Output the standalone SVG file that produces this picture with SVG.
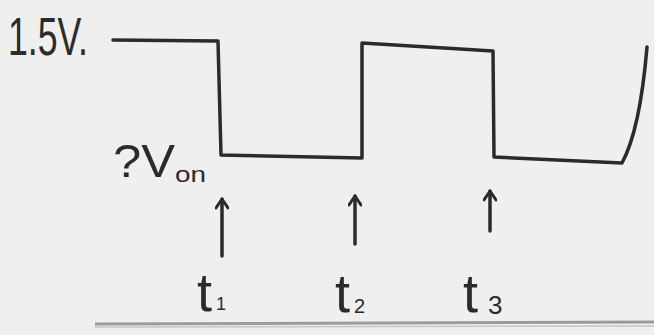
<svg xmlns="http://www.w3.org/2000/svg" width="654" height="335" viewBox="0 0 654 335">
<style>
.ink{fill:none;stroke:#2b2b2b;stroke-width:3.5;stroke-linecap:round;stroke-linejoin:round}
.lbl{font-family:"Liberation Sans",Arial,sans-serif;fill:#2b2b2b}
</style>
<defs>
<marker id="ah" viewBox="0 0 14 14" refX="12" refY="7" markerWidth="14" markerHeight="14" markerUnits="userSpaceOnUse" orient="auto">
<path d="M3,1 L12,7 L3,13" fill="none" stroke="#2b2b2b" stroke-width="3" stroke-linecap="round" stroke-linejoin="round"/>
</marker>
</defs>
<rect width="654" height="335" fill="#efefef"/>
<g id="waveform">
<path class="ink" d="M113,40 L218,41 L221,155 L362,158 L362,43 L493,51 L494,157 L622,163 Q640,130 647,47"/>
</g>
<g id="label-1v5"><text class="lbl" x="8" y="55" font-size="54" textLength="80" lengthAdjust="spacingAndGlyphs">1.5V.</text></g>
<g id="label-von"><text class="lbl" x="113" y="177" font-size="46" textLength="62" lengthAdjust="spacingAndGlyphs">?V</text><text class="lbl" x="175" y="182" font-size="22" textLength="31" lengthAdjust="spacingAndGlyphs">on</text></g>
<g id="connectors">
<line class="ink" x1="222" y1="256" x2="222" y2="199" stroke-width="3.5" marker-end="url(#ah)"/>
<line class="ink" x1="355" y1="244" x2="355" y2="196" stroke-width="3.5" marker-end="url(#ah)"/>
<line class="ink" x1="490" y1="231" x2="490" y2="191" stroke-width="3.5" marker-end="url(#ah)"/>
</g>
<g id="label-t1"><text class="lbl" x="197" y="311" font-size="54">t</text><text class="lbl" x="216" y="310" font-size="18">1</text></g>
<g id="label-t2"><text class="lbl" x="335" y="312" font-size="54">t</text><text class="lbl" x="354" y="313" font-size="20">2</text></g>
<g id="label-t3"><text class="lbl" x="463" y="312" font-size="54">t</text><text class="lbl" x="488" y="314" font-size="26">3</text></g>
<g id="baseline">
<line x1="95" y1="324" x2="654" y2="322" stroke="#9a9a9a" stroke-width="3"/>
<line x1="95" y1="327" x2="654" y2="326" stroke="#c4c4c4" stroke-width="1.5"/>
</g>
</svg>
